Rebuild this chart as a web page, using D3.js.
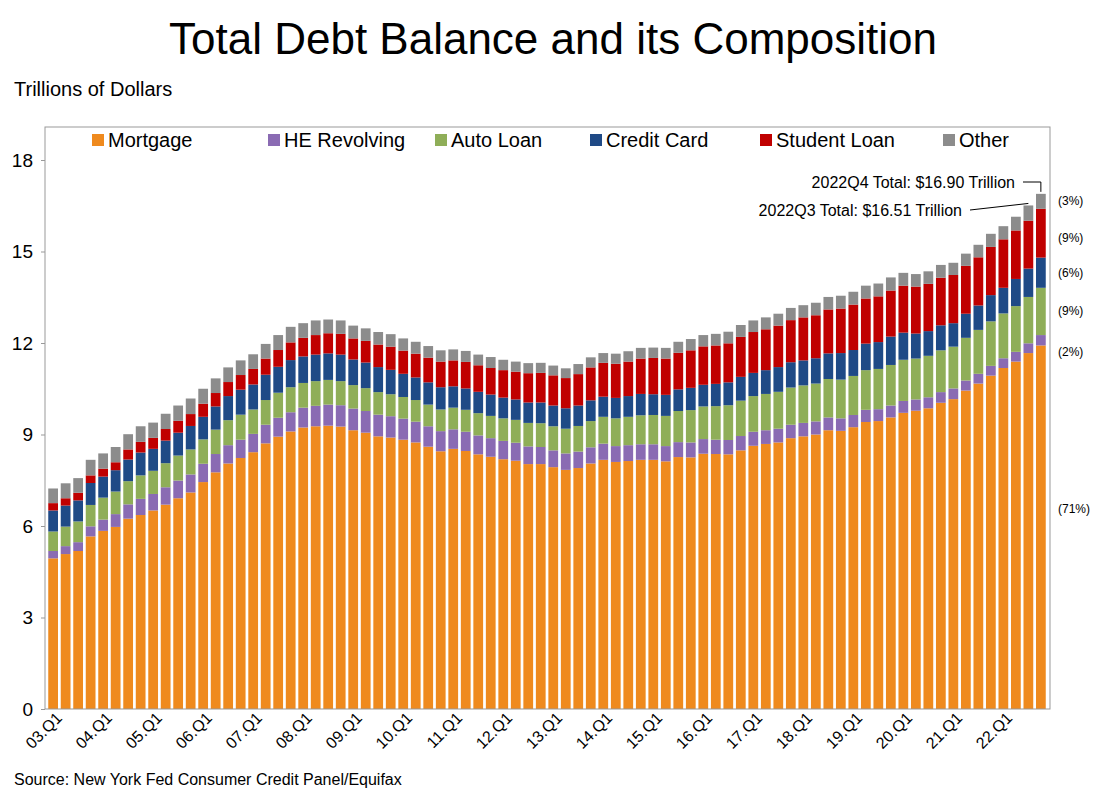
<!DOCTYPE html>
<html>
<head>
<meta charset="utf-8">
<script src="https://cdn.jsdelivr.net/npm/d3@7"></script>
<style>
  body { margin: 0; background: #fff; font-family: Arial, "Liberation Sans", sans-serif; }
</style>
</head>
<body>
<script>
// quarterly balances, trillions of dollars, 2003Q1 .. 2022Q4
var mortgage = [4.94,5.08,5.18,5.66, 5.84,5.97,6.24,6.36, 6.51,6.70,6.91,7.10, 7.44,7.76,8.05,8.23,
  8.42,8.71,8.93,9.10, 9.23,9.27,9.29,9.26, 9.14,9.06,8.94,8.90, 8.83,8.74,8.60,8.45,
  8.53,8.46,8.35,8.27, 8.19,8.14,8.03,8.03, 7.93,7.84,7.90,8.05, 8.17,8.10,8.13,8.17,
  8.17,8.12,8.26,8.25, 8.37,8.36,8.35,8.48, 8.63,8.69,8.74,8.88, 8.94,9.00,9.14,9.12,
  9.24,9.41,9.44,9.56, 9.71,9.78,9.86,10.04, 10.16,10.44,10.67,10.93, 11.18,11.39,11.67,11.92];
var heRevolving = [0.24,0.26,0.29,0.33, 0.37,0.42,0.47,0.53, 0.54,0.57,0.58,0.59, 0.60,0.60,0.60,0.60,
  0.60,0.61,0.62,0.63, 0.65,0.67,0.69,0.70, 0.71,0.71,0.71,0.70, 0.69,0.68,0.67,0.66,
  0.64,0.63,0.62,0.61, 0.60,0.59,0.58,0.56, 0.55,0.54,0.54,0.53, 0.53,0.52,0.52,0.51,
  0.51,0.50,0.49,0.49, 0.48,0.47,0.47,0.47, 0.46,0.45,0.45,0.44, 0.44,0.43,0.42,0.41,
  0.40,0.40,0.39,0.39, 0.39,0.37,0.36,0.35, 0.35,0.33,0.32,0.32, 0.32,0.32,0.32,0.34];
var autoLoan = [0.64,0.64,0.68,0.70, 0.72,0.74,0.76,0.77, 0.76,0.79,0.82,0.82, 0.80,0.80,0.82,0.82,
  0.80,0.81,0.82,0.82, 0.81,0.81,0.81,0.79, 0.77,0.75,0.74,0.72, 0.71,0.71,0.71,0.71,
  0.71,0.72,0.73,0.73, 0.74,0.75,0.77,0.78, 0.79,0.81,0.84,0.86, 0.88,0.91,0.93,0.95,
  0.96,0.99,1.02,1.06, 1.07,1.10,1.14,1.16, 1.17,1.19,1.21,1.22, 1.23,1.24,1.26,1.27,
  1.28,1.30,1.32,1.33, 1.35,1.34,1.36,1.37, 1.37,1.40,1.44,1.46, 1.47,1.50,1.52,1.55];
var creditCard = [0.69,0.69,0.69,0.72, 0.69,0.70,0.71,0.75, 0.72,0.74,0.75,0.77, 0.74,0.76,0.79,0.82,
  0.82,0.83,0.85,0.89, 0.87,0.87,0.87,0.87, 0.84,0.84,0.82,0.80, 0.76,0.74,0.73,0.73,
  0.70,0.70,0.70,0.70, 0.68,0.67,0.67,0.68, 0.68,0.67,0.67,0.68, 0.66,0.67,0.68,0.70,
  0.68,0.69,0.71,0.73, 0.71,0.73,0.75,0.78, 0.76,0.78,0.81,0.83, 0.82,0.83,0.84,0.87,
  0.85,0.87,0.88,0.93, 0.89,0.82,0.81,0.82, 0.77,0.79,0.80,0.86, 0.84,0.89,0.93,0.99];
var studentLoan = [0.24,0.24,0.25,0.25, 0.26,0.26,0.33,0.35, 0.36,0.38,0.39,0.39, 0.43,0.44,0.46,0.48,
  0.51,0.53,0.55,0.58, 0.61,0.64,0.66,0.68, 0.69,0.71,0.74,0.76, 0.76,0.78,0.81,0.84,
  0.85,0.87,0.87,0.87, 0.90,0.91,0.96,0.97, 0.99,0.99,1.03,1.08, 1.11,1.12,1.13,1.16,
  1.19,1.19,1.20,1.23, 1.26,1.26,1.28,1.31, 1.34,1.34,1.36,1.38, 1.41,1.41,1.44,1.46,
  1.49,1.48,1.50,1.51, 1.54,1.54,1.55,1.56, 1.58,1.57,1.58,1.58, 1.59,1.59,1.57,1.60];
var other = [0.48,0.49,0.48,0.51, 0.50,0.50,0.50,0.51, 0.50,0.50,0.50,0.51, 0.49,0.48,0.48,0.48,
  0.48,0.48,0.49,0.51, 0.48,0.48,0.45,0.44, 0.42,0.41,0.41,0.41, 0.40,0.39,0.38,0.37,
  0.36,0.36,0.35,0.36, 0.34,0.33,0.33,0.33, 0.32,0.32,0.33,0.33, 0.32,0.33,0.34,0.35,
  0.34,0.35,0.36,0.37, 0.37,0.38,0.38,0.39, 0.38,0.39,0.39,0.40, 0.40,0.41,0.41,0.42,
  0.42,0.42,0.42,0.43, 0.42,0.41,0.41,0.42, 0.40,0.40,0.41,0.43, 0.43,0.45,0.50,0.49];

var seriesNames = ["Mortgage", "HE Revolving", "Auto Loan", "Credit Card", "Student Loan", "Other"];
var shareLabels = ["(71%)", "(2%)", "(9%)", "(6%)", "(9%)", "(3%)"];
var yTicks = [0, 3, 6, 9, 12, 15, 18];
var totalLabels = ["2022Q3 Total: $16.51 Trillion", "2022Q4 Total: $16.90 Trillion"];

var colors = ["#EF8A1E", "#8A6BB3", "#8FAE58", "#1F4A86", "#C00000", "#8C8C8C"];
var values = [mortgage, heRevolving, autoLoan, creditCard, studentLoan, other];

var quarters = [];
for (var yr = 3; yr <= 22; yr++)
  for (var q = 1; q <= 4; q++)
    quarters.push((yr < 10 ? "0" + yr : "" + yr) + ".Q" + q);

var rows = quarters.map(function(d, i) {
  var r = {quarter: d};
  seriesNames.forEach(function(s, j) { r[s] = values[j][i]; });
  return r;
});

var W = 1106, H = 798;
var plot = {left: 45, right: 1050, top: 127, bottom: 709};

var svg = d3.select("body").append("svg").attr("width", W).attr("height", H);

var x = d3.scaleBand().domain(quarters).range([plot.left + 2, plot.right - 3]).paddingInner(0.22).paddingOuter(0.1);
var y = d3.scaleLinear().domain([0, 18]).range([plot.bottom, plot.bottom - 549]);

var stack = d3.stack().keys(seriesNames)(rows);

svg.append("g").selectAll("g").data(stack).join("g")
   .attr("fill", function(d, i) { return colors[i]; })
   .selectAll("rect").data(function(d) { return d; }).join("rect")
   .attr("x", function(d) { return x(d.data.quarter); })
   .attr("width", x.bandwidth())
   .attr("y", function(d) { return y(d[1]); })
   .attr("height", function(d) { return y(d[0]) - y(d[1]); });

// frame
svg.append("rect")
   .attr("x", plot.left).attr("y", plot.top)
   .attr("width", plot.right - plot.left).attr("height", plot.bottom - plot.top)
   .attr("fill", "none").attr("stroke", "#999").attr("stroke-width", 1);

// y axis
var yAxis = svg.append("g")
   .attr("transform", "translate(" + plot.left + ",0)")
   .call(d3.axisLeft(y).tickValues(yTicks).tickSize(4).tickPadding(8));
yAxis.select(".domain").remove();
yAxis.selectAll("line").attr("stroke", "#999");
yAxis.selectAll("text").attr("font-size", 19).attr("fill", "#000").attr("font-family", "Arial, Liberation Sans, sans-serif");

// x axis
var xAxis = svg.append("g")
   .attr("transform", "translate(0," + plot.bottom + ")")
   .call(d3.axisBottom(x).tickValues(quarters.filter(function(d, i) { return i % 4 == 0; })).tickSize(0));
xAxis.select(".domain").remove();
xAxis.selectAll("text")
   .attr("font-size", 16).attr("fill", "#000").attr("font-family", "Arial, Liberation Sans, sans-serif")
   .attr("text-anchor", "end")
   .attr("transform", "translate(6,6) rotate(-45)")
   .attr("dy", "0.35em").attr("dx", 0).attr("y", 0);

// title and labels
svg.append("text").attr("x", W / 2).attr("y", 54).attr("text-anchor", "middle")
   .attr("font-size", 44).text("Total Debt Balance and its Composition");
svg.append("text").attr("x", 14).attr("y", 96).attr("font-size", 20).text("Trillions of Dollars");
svg.append("text").attr("x", 14).attr("y", 785).attr("font-size", 16).text("Source: New York Fed Consumer Credit Panel/Equifax");

// legend
var legendX = [92, 268, 435, 590, 760, 943];
var legend = svg.append("g").selectAll("g").data(seriesNames).join("g")
   .attr("transform", function(d, i) { return "translate(" + legendX[i] + ",140)"; });
legend.append("rect").attr("x", 0).attr("y", -6).attr("width", 12).attr("height", 12)
   .attr("fill", function(d, i) { return colors[i]; });
legend.append("text").attr("x", 16).attr("y", 7).attr("font-size", 20).text(function(d) { return d; });

// share labels at last bar
var last = rows.length - 1;
var shareNudge = [-18, 12, 0, 0, 5, 0];
svg.append("g").selectAll("text").data(stack).join("text")
   .attr("x", 1058)
   .attr("y", function(d, i) { return y((d[last][0] + d[last][1]) / 2) + shareNudge[i] + 4; })
   .attr("font-size", 12)
   .text(function(d, i) { return shareLabels[i]; });

// total annotations
var q3 = quarters[last - 1], q4 = quarters[last];
var t3 = d3.sum(values, function(v) { return v[last - 1]; });
var t4 = d3.sum(values, function(v) { return v[last]; });
svg.append("text").attr("x", 962).attr("y", 216).attr("text-anchor", "end").attr("font-size", 16).text(totalLabels[0]);
svg.append("text").attr("x", 1015).attr("y", 188).attr("text-anchor", "end").attr("font-size", 16).text(totalLabels[1]);
svg.append("line").attr("x1", 970).attr("y1", 210)
   .attr("x2", x(q3) + x.bandwidth() / 2).attr("y2", y(t3) - 2)
   .attr("stroke", "#000").attr("stroke-width", 1);
svg.append("polyline")
   .attr("points", [[1023, 182], [x(q4) + x.bandwidth() / 2, 182], [x(q4) + x.bandwidth() / 2, y(t4) - 2]].join(" "))
   .attr("fill", "none").attr("stroke", "#000").attr("stroke-width", 1);
</script>
</body>
</html>
